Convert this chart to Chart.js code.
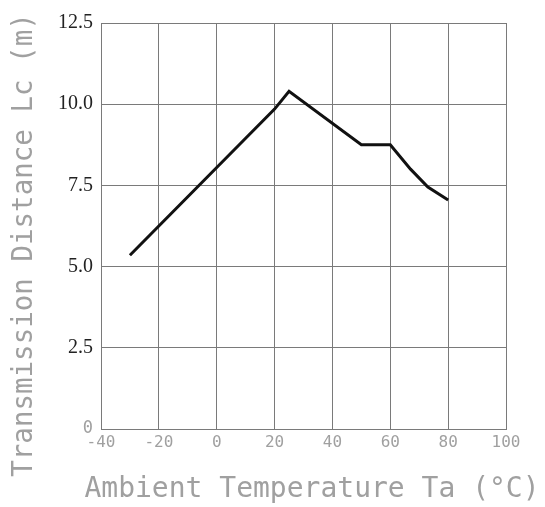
<!DOCTYPE html>
<html>
<head>
<meta charset="utf-8">
<script src="https://cdn.jsdelivr.net/npm/chart.js@4"></script>
<style>
  html, body { margin: 0; padding: 0; background: #fff; }
  #wrap { width: 545px; height: 507px; }
</style>
</head>
<body>
<div id="wrap"><canvas id="myChart" width="545" height="507"></canvas></div>
<script>
// Temperatura ambiente (°C) y distancia de transmisión (m)
const temperatures = [-30, 0, 20, 25, 50, 60, 67, 73, 80];
const distances = [5.35, 8.05, 9.85, 10.4, 8.75, 8.75, 8.0, 7.45, 7.05];

const xTicks = [-40, -20, 0, 20, 40, 60, 80, 100];
const yTicks = [0, 2.5, 5, 7.5, 10, 12.5];

const xTitle = "Ambient Temperature Ta (°C)";
const yTitle = "Transmission Distance Lc (m)";

const points = temperatures.map((t, i) => ({ x: t, y: distances[i] }));

const gridColor = "#7a7a7a";
const lightText = "#a0a0a0";
const titleFont = '28px "DejaVu Sans Mono"';

// Titulos de ejes dibujados a mano (Chart.js comprime el texto largo)
const axisTitles = {
  id: "axisTitles",
  afterDraw: (chart) => {
    const c = chart.ctx;
    c.save();
    c.fillStyle = lightText;
    c.font = titleFont;
    c.textAlign = "center";
    c.textBaseline = "middle";
    c.fillText(xTitle, 312, 490);
    c.translate(25, 245);
    c.rotate(-Math.PI / 2);
    c.font = '27.5px "DejaVu Sans Mono"';
    c.fillText(yTitle, 0, 0);
    c.restore();
  },
};

const ctx = document.getElementById("myChart").getContext("2d");
new Chart(ctx, {
  type: "scatter",
  data: {
    datasets: [
      {
        data: points,
        showLine: true,
        borderColor: "#111",
        borderWidth: 3,
        pointRadius: 0,
        tension: 0,
      },
    ],
  },
  options: {
    responsive: false,
    animation: false,
    layout: { padding: { left: 0, right: 39, top: 23, bottom: 0 } },
    plugins: { legend: { display: false }, tooltip: { enabled: false } },
    scales: {
      x: {
        type: "linear",
        min: xTicks[0],
        max: xTicks[xTicks.length - 1],
        afterBuildTicks: (scale) => {
          scale.ticks = xTicks.map((v) => ({ value: v }));
        },
        afterFit: (scale) => {
          scale.height = 78;
        },
        grid: { color: gridColor, lineWidth: 1, drawTicks: false },
        border: { color: gridColor, width: 1 },
        ticks: {
          padding: 4,
          color: lightText,
          font: { family: "DejaVu Sans Mono", size: 16 },
          maxRotation: 0,
          autoSkip: false,
        },
      },
      y: {
        type: "linear",
        min: yTicks[0],
        max: yTicks[yTicks.length - 1],
        afterBuildTicks: (scale) => {
          scale.ticks = yTicks.map((v) => ({ value: v }));
        },
        afterFit: (scale) => {
          scale.width = 101;
        },
        grid: { color: gridColor, lineWidth: 1, drawTicks: false },
        border: { color: gridColor, width: 1 },
        ticks: {
          padding: 8,
          autoSkip: false,
          callback: (v) => (v === 0 ? "0" : v.toFixed(1)),
          color: (c) => (c.tick && c.tick.value === 0 ? lightText : "#222"),
          font: (c) =>
            c.tick && c.tick.value === 0
              ? { family: "DejaVu Sans Mono", size: 17 }
              : { family: "Liberation Serif", size: 20 },
        },
      },
    },
  },
  plugins: [
    {
      id: "whiteBg",
      beforeDraw: (chart) => {
        const c = chart.ctx;
        c.save();
        c.fillStyle = "#fff";
        c.fillRect(0, 0, chart.width, chart.height);
        c.restore();
      },
    },
    axisTitles,
  ],
});
</script>
</body>
</html>
